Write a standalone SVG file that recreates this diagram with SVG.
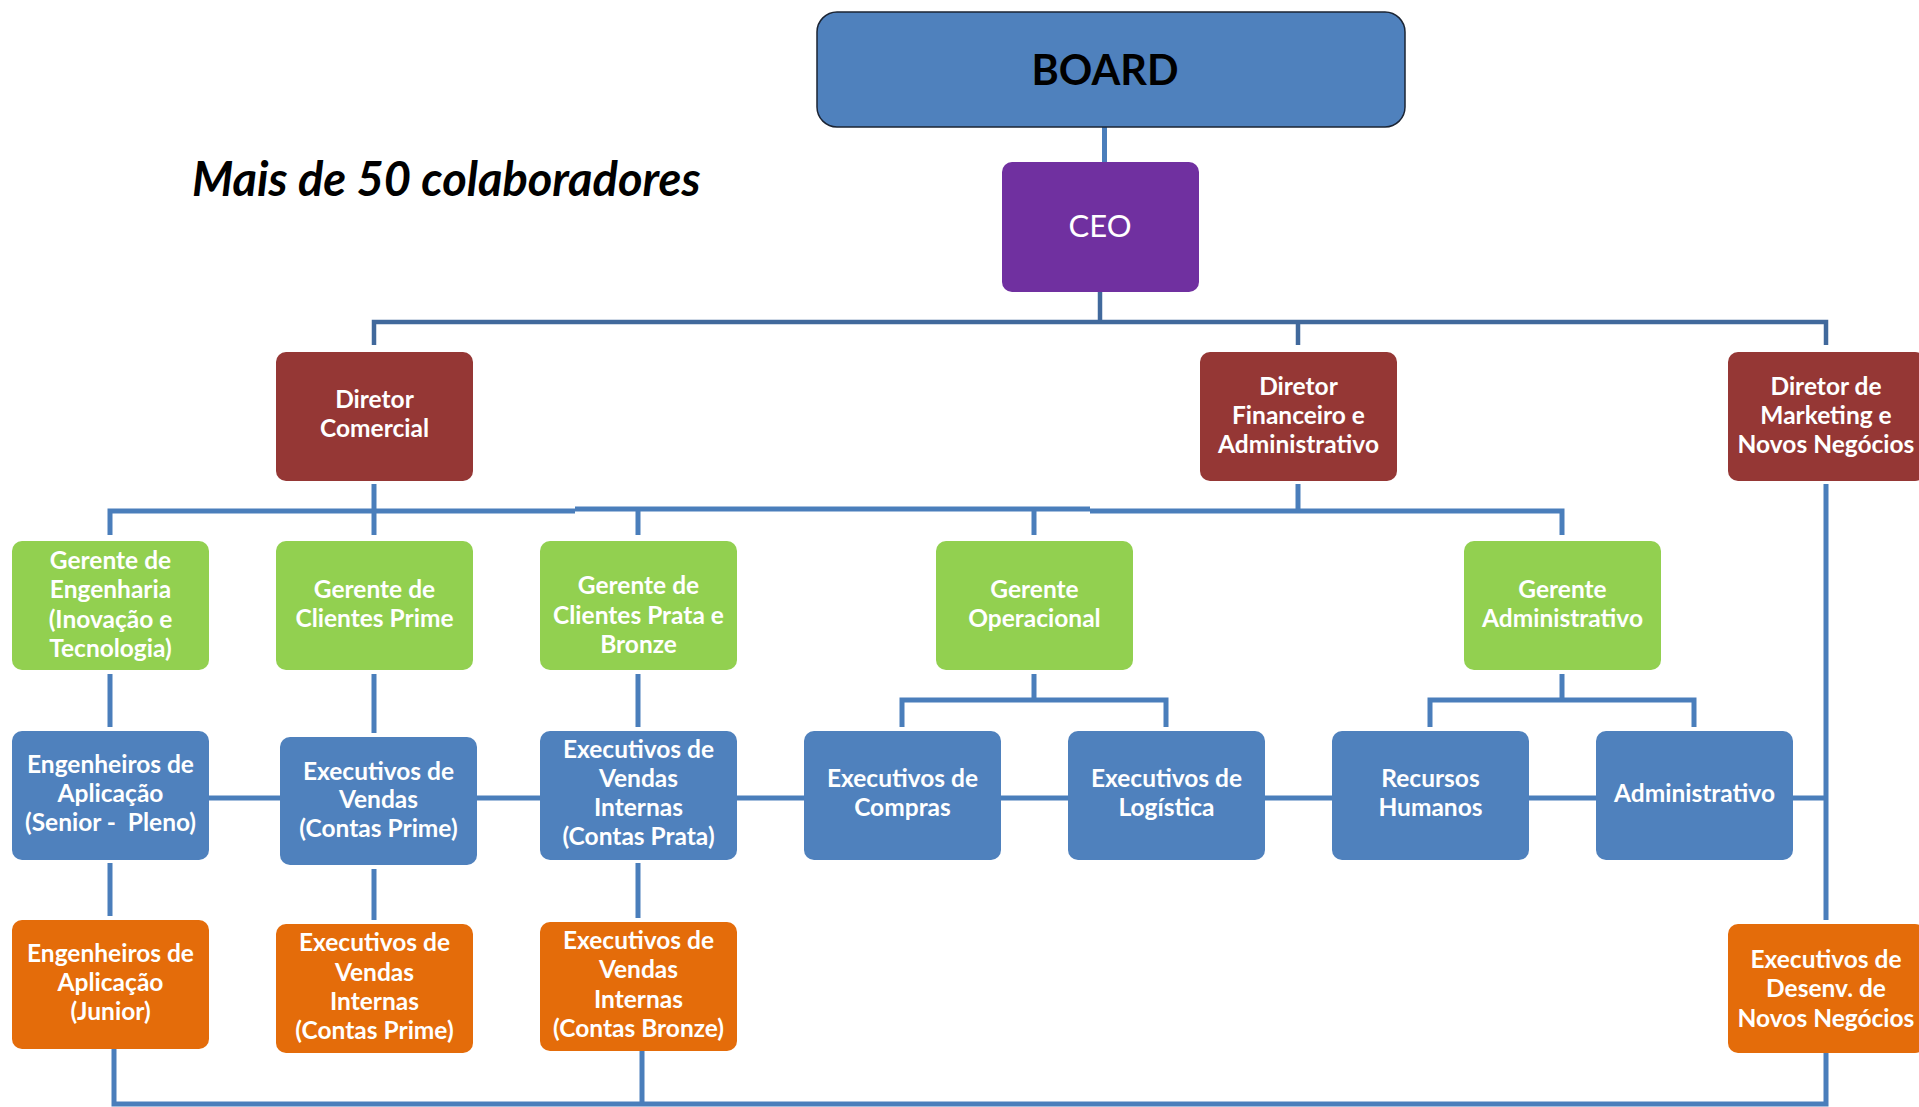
<svg xmlns="http://www.w3.org/2000/svg" width="1919" height="1107" viewBox="0 0 1919 1107">
<style>
.c{fill:none;stroke:#4A7EBB;stroke-width:5;stroke-linejoin:miter}
.cd{fill:none;stroke:#41699C;stroke-width:4.5}
.b{fill:#4F81BD}
.g{fill:#92D050}
.o{fill:#E46C0A}
.r{fill:#953735}
.p{fill:#7030A0}
.t{font-family:Lato,"Open Sans","Liberation Sans",sans-serif;font-weight:700;font-size:24.5px;fill:#fff;text-anchor:middle}
</style>
<rect width="1919" height="1107" fill="#fff"/>
<text x="192" y="196" font-family="Lato,'Open Sans','Liberation Sans',sans-serif" font-weight="700" font-style="italic" font-size="47" fill="#000">Mais de 50 colaboradores</text>
<g id="connectors">
<path class="c" d="M1104.5,127V162"/>
<path class="cd" d="M1100,292V322"/>
<path class="cd" d="M374,345V322H1826V345M1298,322V345"/>
<path class="c" d="M374,484V535"/>
<path class="c" d="M1298,484V511"/>
<path class="c" d="M110,535V511H575"/>
<path class="c" d="M575,509H1090"/>
<path class="c" d="M1090,511H1562V535"/>
<path class="c" d="M638,509V535M1034,509V535"/>
<path class="c" d="M110,674V727M374,674V733M638,674V727"/>
<path class="c" d="M1034,674V700M902,727V700H1166V727"/>
<path class="c" d="M1562,674V700M1430,727V700H1694V727"/>
<path class="c" d="M209,798H1826"/>
<path class="c" d="M1826,484V920"/>
<path class="c" d="M110,863V916M374,869V920M638,863V918"/>
<path class="c" d="M114,1049V1104H1826V1053M642,1051V1104"/>
</g>
<g id="board"><rect x="817" y="12" width="588" height="115" rx="20" fill="#4F81BD" stroke="#1B2433" stroke-width="1.5"/><text x="1105" y="85" font-family="Lato,'Open Sans','Liberation Sans',sans-serif" font-weight="700" font-size="41.5" fill="#000" text-anchor="middle">BOARD</text></g>
<g id="ceo"><rect class="p" x="1002" y="162" width="197" height="130" rx="10"/><text x="1100" y="237" font-family="Lato,'Open Sans','Liberation Sans',sans-serif" font-size="31" fill="#fff" text-anchor="middle">CEO</text></g>
<g id="dir-comercial"><rect class="r" x="276" y="352" width="197" height="129" rx="10"/><text class="t"><tspan x="374.5" y="408">Diretor</tspan><tspan x="374.5" y="437">Comercial</tspan></text></g>
<g id="dir-financeiro"><rect class="r" x="1200" y="352" width="197" height="129" rx="10"/><text class="t"><tspan x="1298.5" y="394.5">Diretor</tspan><tspan x="1298.5" y="423.5">Financeiro e</tspan><tspan x="1298.5" y="452.5">Administrativo</tspan></text></g>
<g id="dir-marketing"><rect class="r" x="1728" y="352" width="197" height="129" rx="10"/><text class="t"><tspan x="1826" y="394.5">Diretor de</tspan><tspan x="1826" y="423.5">Marketing e</tspan><tspan x="1826" y="452.5">Novos Negócios</tspan></text></g>
<g id="ger-engenharia"><rect class="g" x="12" y="541" width="197" height="129" rx="10"/><text class="t"><tspan x="110.5" y="569">Gerente de</tspan><tspan x="110.5" y="598">Engenharia</tspan><tspan x="110.5" y="627.5">(Inovação e</tspan><tspan x="110.5" y="657">Tecnologia)</tspan></text></g>
<g id="ger-prime"><rect class="g" x="276" y="541" width="197" height="129" rx="10"/><text class="t"><tspan x="374.5" y="598">Gerente de</tspan><tspan x="374.5" y="627">Clientes Prime</tspan></text></g>
<g id="ger-prata"><rect class="g" x="540" y="541" width="197" height="129" rx="10"/><text class="t"><tspan x="638.5" y="594">Gerente de</tspan><tspan x="638.5" y="623.5">Clientes Prata e</tspan><tspan x="638.5" y="653">Bronze</tspan></text></g>
<g id="ger-operacional"><rect class="g" x="936" y="541" width="197" height="129" rx="10"/><text class="t"><tspan x="1034.5" y="598">Gerente</tspan><tspan x="1034.5" y="627">Operacional</tspan></text></g>
<g id="ger-administrativo"><rect class="g" x="1464" y="541" width="197" height="129" rx="10"/><text class="t"><tspan x="1562.5" y="598">Gerente</tspan><tspan x="1562.5" y="627">Administrativo</tspan></text></g>
<g id="eng-aplicacao"><rect class="b" x="12" y="731" width="197" height="129" rx="10"/><text class="t" xml:space="preserve"><tspan x="110.5" y="773">Engenheiros de</tspan><tspan x="110.5" y="802">Aplicação</tspan><tspan x="110.5" y="831">(Senior -  Pleno)</tspan></text></g>
<g id="exec-vendas-prime"><rect class="b" x="280" y="737" width="197" height="128" rx="10"/><text class="t"><tspan x="378.5" y="779.5">Executivos de</tspan><tspan x="378.5" y="808">Vendas</tspan><tspan x="378.5" y="836.5">(Contas Prime)</tspan></text></g>
<g id="exec-vendas-prata"><rect class="b" x="540" y="731" width="197" height="129" rx="10"/><text class="t"><tspan x="638.5" y="758">Executivos de</tspan><tspan x="638.5" y="787">Vendas</tspan><tspan x="638.5" y="816">Internas</tspan><tspan x="638.5" y="845">(Contas Prata)</tspan></text></g>
<g id="exec-compras"><rect class="b" x="804" y="731" width="197" height="129" rx="10"/><text class="t"><tspan x="902.5" y="787">Executivos de</tspan><tspan x="902.5" y="816">Compras</tspan></text></g>
<g id="exec-logistica"><rect class="b" x="1068" y="731" width="197" height="129" rx="10"/><text class="t"><tspan x="1166.5" y="787">Executivos de</tspan><tspan x="1166.5" y="816">Logística</tspan></text></g>
<g id="rh"><rect class="b" x="1332" y="731" width="197" height="129" rx="10"/><text class="t"><tspan x="1430.5" y="787">Recursos</tspan><tspan x="1430.5" y="816">Humanos</tspan></text></g>
<g id="administrativo"><rect class="b" x="1596" y="731" width="197" height="129" rx="10"/><text class="t"><tspan x="1694.5" y="802">Administrativo</tspan></text></g>
<g id="eng-junior"><rect class="o" x="12" y="920" width="197" height="129" rx="10"/><text class="t"><tspan x="110.5" y="962">Engenheiros de</tspan><tspan x="110.5" y="991">Aplicação</tspan><tspan x="110.5" y="1020">(Junior)</tspan></text></g>
<g id="vendas-internas-prime"><rect class="o" x="276" y="924" width="197" height="129" rx="10"/><text class="t"><tspan x="374.5" y="951">Executivos de</tspan><tspan x="374.5" y="980.5">Vendas</tspan><tspan x="374.5" y="1009.5">Internas</tspan><tspan x="374.5" y="1038.5">(Contas Prime)</tspan></text></g>
<g id="vendas-internas-bronze"><rect class="o" x="540" y="922" width="197" height="129" rx="10"/><text class="t"><tspan x="638.5" y="948.5">Executivos de</tspan><tspan x="638.5" y="978">Vendas</tspan><tspan x="638.5" y="1007.5">Internas</tspan><tspan x="638.5" y="1036.5">(Contas Bronze)</tspan></text></g>
<g id="desenv-negocios"><rect class="o" x="1728" y="924" width="197" height="129" rx="10"/><text class="t"><tspan x="1826" y="968">Executivos de</tspan><tspan x="1826" y="997">Desenv. de</tspan><tspan x="1826" y="1026.5">Novos Negócios</tspan></text></g>
</svg>
